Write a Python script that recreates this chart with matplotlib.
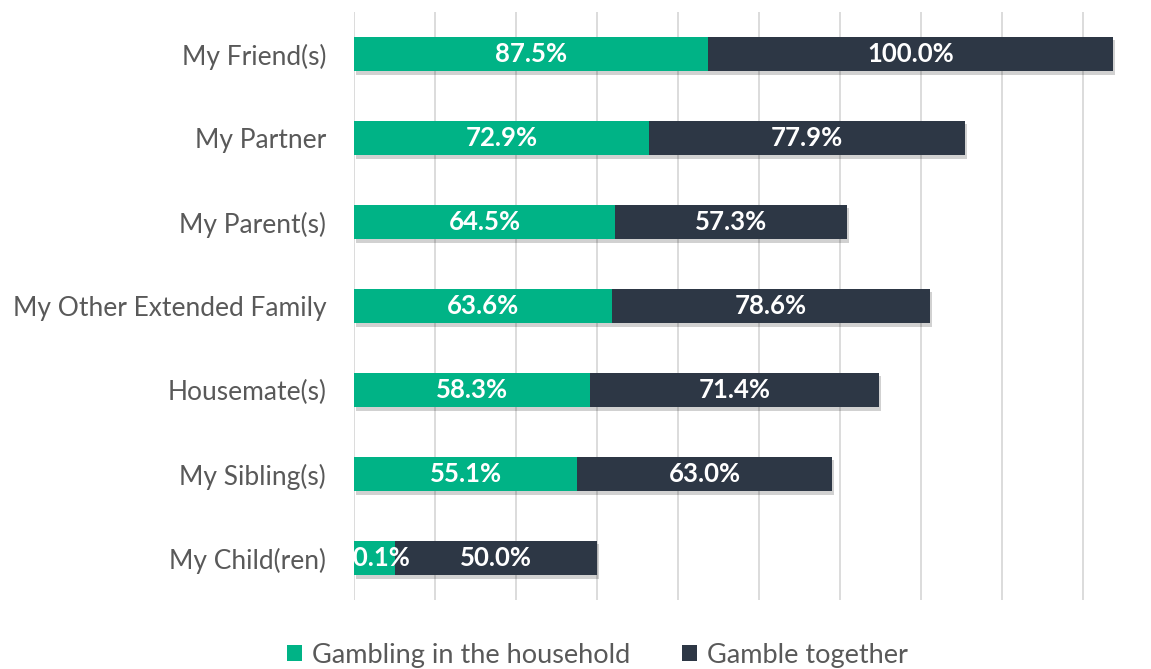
import matplotlib
matplotlib.use("Agg")
import matplotlib.pyplot as plt
import matplotlib.patheffects as pe
import numpy as np

categories = ["My Friend(s)", "My Partner", "My Parent(s)", "My Other Extended Family",
              "Housemate(s)", "My Sibling(s)", "My Child(ren)"]
household = [87.5, 72.9, 64.5, 63.6, 58.3, 55.1, 10.1]
together = [100.0, 77.9, 57.3, 78.6, 71.4, 63.0, 50.0]
series_names = ["Gambling in the household", "Gamble together"]

green = "#00B386"
dark = "#2D3745"

plt.rcParams['font.family'] = ['Lato', 'DejaVu Sans']

fig = plt.figure(figsize=(11.51, 6.69), dpi=100)
ax = fig.add_axes([354/1151, 1 - 600/669, 1 - 354/1151, (600 - 12)/669])

y = np.arange(len(categories))
shadow = [pe.SimplePatchShadow(offset=(1.5, -2.5), shadow_rgbFace="#000000", alpha=0.18), pe.Normal()]
b1 = ax.barh(y, household, height=0.41, color=green, label=series_names[0], zorder=3)
b2 = ax.barh(y, together, left=household, height=0.41, color=dark, label=series_names[1], zorder=3)
for bars in (b1, b2):
    for p in bars:
        p.set_path_effects(shadow)

for i in range(len(categories)):
    ax.text(household[i] / 2, y[i], f"{household[i]:.1f}%", ha="center", va="center",
            color="white", fontsize=18.5, fontweight="bold", zorder=4)
    ax.text(household[i] + together[i] / 2, y[i], f"{together[i]:.1f}%", ha="center", va="center",
            color="white", fontsize=18.5, fontweight="bold", zorder=4)

ax.set_xlim(0, 196.8)
ax.set_ylim(len(categories) - 0.5, -0.5)
ax.set_xticks(np.arange(0, 181, 20))
ax.set_xticklabels([])
ax.grid(axis="x", color="#D9D9D9", linewidth=1.3, zorder=0)
ax.set_yticks(y)
ax.set_yticklabels(categories, fontsize=19, color="#595959")
ax.tick_params(axis="both", length=0, pad=20)
for s in ax.spines.values():
    s.set_visible(False)

leg = fig.legend(handles=[b1, b2], labels=series_names, loc="center", bbox_to_anchor=(0.519, 1 - 655/669),
                 ncol=2, frameon=False, fontsize=19.5, handlelength=0.56, handleheight=0.56,
                 handletextpad=0.37, columnspacing=1.9, labelcolor="#595959")
for h in leg.legend_handles:
    h.set_path_effects([])

fig.savefig("out.png", dpi=100)
